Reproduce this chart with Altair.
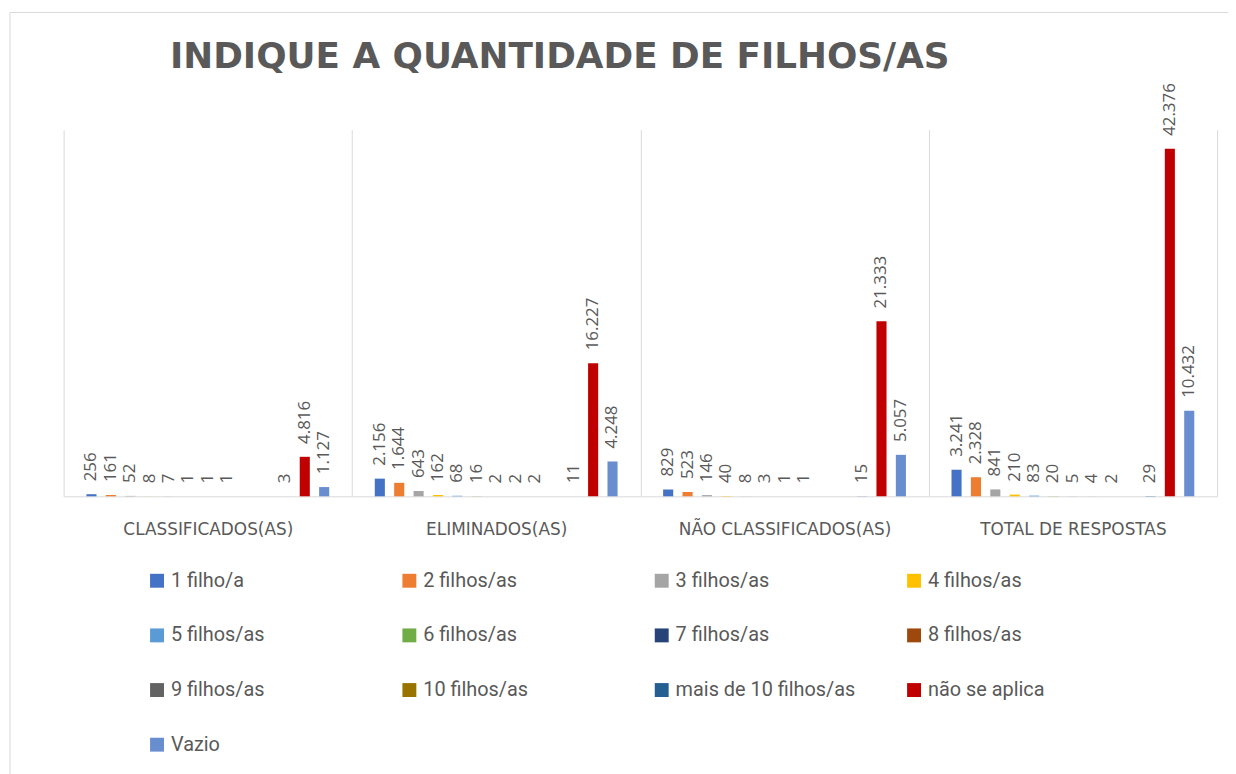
import altair as alt
import pandas as pd

title_text = "INDIQUE A QUANTIDADE DE FILHOS/AS"
categories = ["CLASSIFICADOS(AS)", "ELIMINADOS(AS)", "NÃO CLASSIFICADOS(AS)", "TOTAL DE RESPOSTAS"]
series = ["1 filho/a", "2 filhos/as", "3 filhos/as", "4 filhos/as", "5 filhos/as",
          "6 filhos/as", "7 filhos/as", "8 filhos/as", "9 filhos/as", "10 filhos/as",
          "mais de 10 filhos/as", "não se aplica", "Vazio"]
classificados = [256, 161, 52, 8, 7, 1, 1, 1, None, None, 3, 4816, 1127]
eliminados = [2156, 1644, 643, 162, 68, 16, 2, 2, 2, None, 11, 16227, 4248]
nao_classificados = [829, 523, 146, 40, 8, 3, 1, 1, None, None, 15, 21333, 5057]
total_respostas = [3241, 2328, 841, 210, 83, 20, 5, 4, 2, None, 29, 42376, 10432]
colors = ["#4472C4", "#ED7D31", "#A5A5A5", "#FFC000", "#5B9BD5", "#70AD47", "#264478",
          "#9E480E", "#636363", "#997300", "#255E91", "#C00000", "#698ED0"]

rows = []
for cat, vals in zip(categories, [classificados, eliminados, nao_classificados, total_respostas]):
    for s, v in zip(series, vals):
        if v is not None:
            rows.append({"category": cat, "series": s, "value": v})
df = pd.DataFrame(rows)

TEXT = "#595959"
GRID = "#d9d9d9"
W, H = 1161, 369

# empty slots at both ends of each group give Excel's gap between clusters
offset_domain = ["_gap_left"] + series + ["_gap_right"]

base = alt.Chart(df).transform_calculate(
    label="replace(format(datum.value, ','), ',', '.')"
).encode(
    x=alt.X("category:N", sort=categories,
            scale=alt.Scale(domain=categories, paddingInner=0, paddingOuter=0),
            axis=alt.Axis(title=None, labelAngle=0, ticks=False, domainColor=GRID,
                          grid=True, gridColor=GRID, tickBand="extent",
                          labelPadding=25, labelFontSize=17, labelColor=TEXT,
                          labelFont="DejaVu Sans", labelFontWeight="normal",
                          labelLimit=400)),
    xOffset=alt.XOffset("series:N",
                        scale=alt.Scale(domain=offset_domain, paddingInner=0.48,
                                        paddingOuter=0.175)),
    y=alt.Y("value:Q", scale=alt.Scale(domain=[0, 44700]), axis=None),
)

bars = base.mark_bar().encode(
    color=alt.Color("series:N", scale=alt.Scale(domain=series, range=colors),
                    legend=alt.Legend(title=None, orient="none", legendX=84, legendY=444,
                                      direction="horizontal", columns=4, gridAlign="all",
                                      columnPadding=49, rowPadding=35,
                                      symbolType="square", symbolSize=196,
                                      symbolStrokeWidth=0, labelFontSize=20,
                                      labelColor=TEXT, labelFont="Roboto",
                                      labelOffset=4, padding=0, labelLimit=400))
)

labels = base.mark_text(angle=270, align="left", baseline="middle", dx=13,
                        fontSize=17, color=TEXT, font="Open Sans").encode(text="label:N")

frame = alt.Chart(pd.DataFrame({"a": [0]})).mark_rect(
    fill=None, stroke=GRID, strokeWidth=1
).encode(x=alt.value(-54), y=alt.value(-118), x2=alt.value(1200), y2=alt.value(700))

title = alt.Chart(pd.DataFrame({"t": [title_text]})).mark_text(
    align="left", baseline="alphabetic", fontSize=36, font="DejaVu Sans",
    fontWeight="bold", color=TEXT
).encode(text="t:N", x=alt.value(107), y=alt.value(-62))

chart = alt.layer(frame, bars, labels, title).properties(
    width=W, height=H,
    autosize=alt.AutoSizeParams(type="none"),
    padding={"left": 56, "top": 120, "right": 11, "bottom": 277},
    background="white",
).configure_view(stroke=None)

chart.save("out.html", embed_options={"renderer": "svg", "actions": False})
